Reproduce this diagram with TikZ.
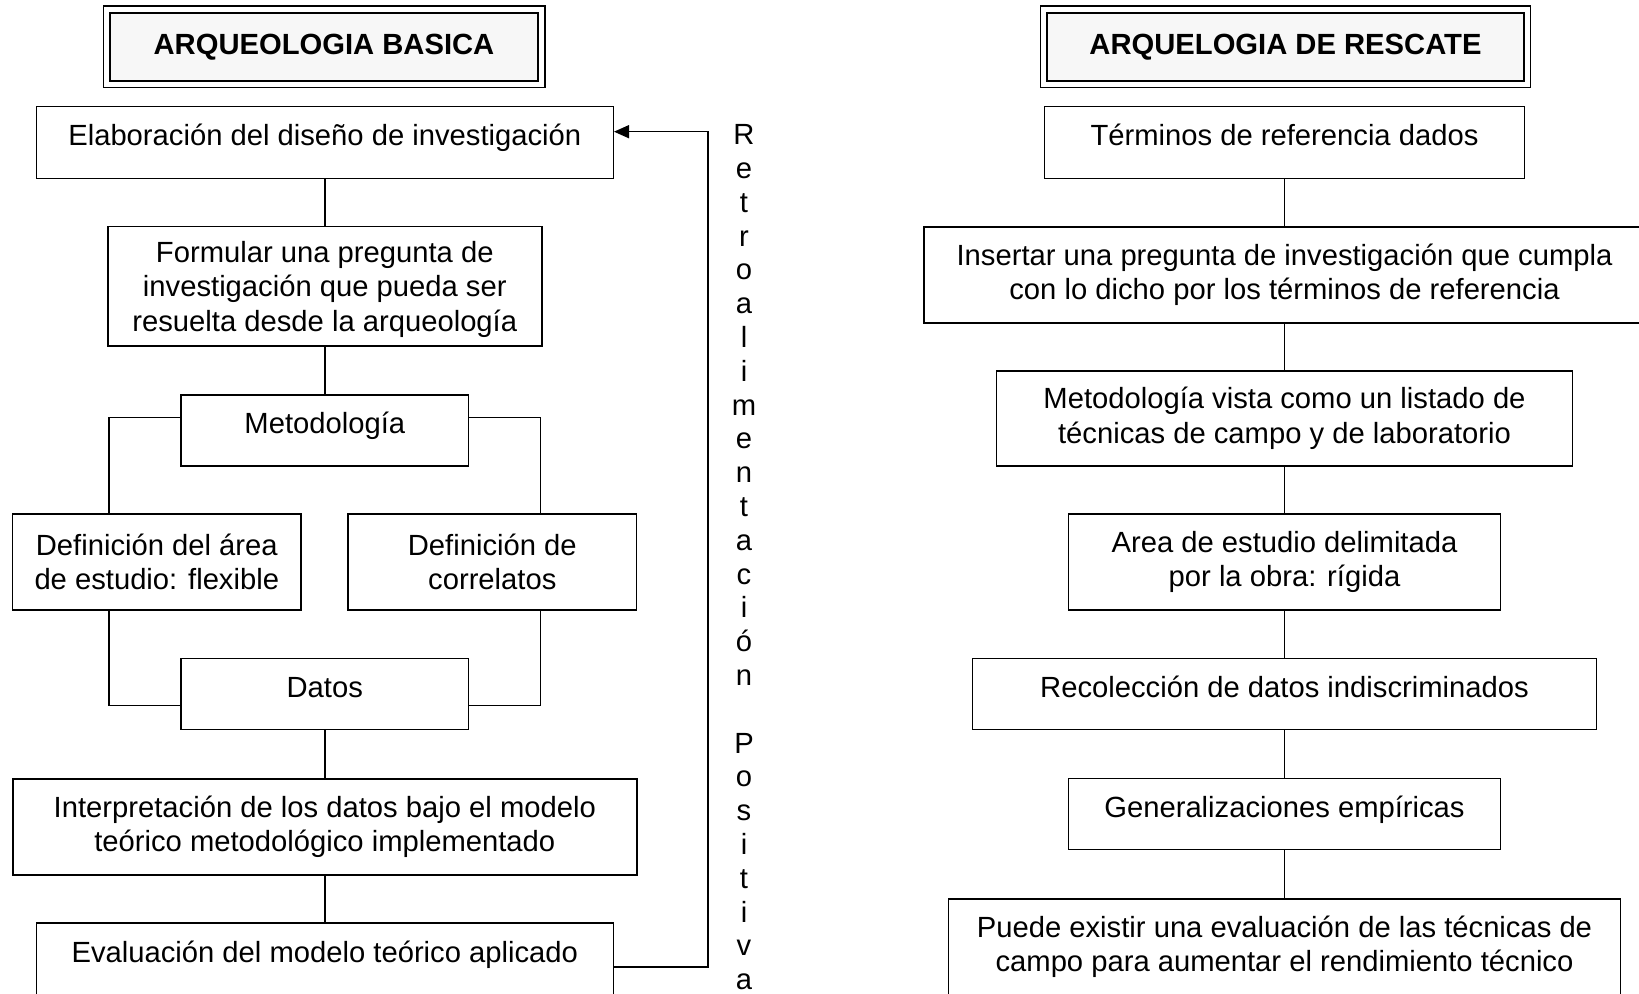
\documentclass[tikz,border=0pt]{standalone}
\usepackage{fontspec}
\setmainfont{Liberation Sans}
\usetikzlibrary{arrows.meta}
\begin{document}
\begin{tikzpicture}[x=0.5pt,y=-0.5pt,
  box/.style={draw=black, line width=0.7pt, fill=white, align=center, inner sep=0pt,
    font=\fontsize{14.6pt}{17.25pt}\selectfont},
  oneline/.style={text height=9pt, text depth=6pt},
  titlebox/.style={draw=black, line width=1.2pt, fill=black!3, align=center, inner sep=0pt,
    font=\fontsize{14.6pt}{17.25pt}\selectfont\bfseries},
  titleouter/.style={draw=black, line width=0.6pt},
  conn/.style={draw=black, line width=0.7pt},
  vtext/.style={align=center, inner sep=0pt, font=\fontsize{14.6pt}{16.9pt}\selectfont}
]
\useasboundingbox (0,0) rectangle (1639,994);

% titles
\node[titlebox, minimum width=214pt, minimum height=34pt] (t1) at (324,47) {ARQUEOLOGIA BASICA};
\draw[titleouter] ([xshift=-2.75pt,yshift=2.9pt]t1.north west) rectangle ([xshift=2.9pt,yshift=-2.6pt]t1.south east);
\node[titlebox, minimum width=238.5pt, minimum height=34pt] (t2) at (1285.5,47) {ARQUELOGIA DE RESCATE};
\draw[titleouter] ([xshift=-2.75pt,yshift=2.9pt]t2.north west) rectangle ([xshift=2.6pt,yshift=-2.6pt]t2.south east);

% left column
\node[box, oneline, minimum width=288.5pt, minimum height=36pt] (elab) at (324.8,142.7) {Elaboración del diseño de investigación};
\node[box, text depth=0pt, minimum width=217pt, minimum height=59.6pt] (form) at (324.8,286.4) {Formular una pregunta de\\investigación que pueda ser\\resuelta desde la arqueología};
\node[box, oneline, minimum width=143.75pt, minimum height=35.5pt] (metod) at (324.8,430.5) {Metodología};
\node[box, minimum width=144.25pt, minimum height=48pt] (defarea) at (156.8,562) {Definición del área\\de estudio: flexible};
\node[box, minimum width=144.3pt, minimum height=48pt] (defcorr) at (492.3,562) {Definición de\\correlatos};
\node[box, oneline, minimum width=143.75pt, minimum height=35.5pt] (datos) at (324.8,694) {Datos};
\node[box, minimum width=312pt, minimum height=48pt] (interp) at (324.8,827) {Interpretación de los datos bajo el modelo\\teórico metodológico implementado};
\node[box, oneline, minimum width=288.5pt, minimum height=36pt] (evalu) at (324.8,959) {Evaluación del modelo teórico aplicado};

\draw[conn] (elab.south) -- (form.north);
\draw[conn] (form.south) -- (metod.north);
\draw[conn] ([yshift=6.6pt]metod.west) -| ([xshift=-23.9pt]defarea.north);
\draw[conn] ([yshift=6.6pt]metod.east) -| ([xshift=24pt]defcorr.north);
\draw[conn] ([xshift=-23.9pt]defarea.south) |- ([yshift=-5.85pt]datos.west);
\draw[conn] ([xshift=24pt]defcorr.south) |- ([yshift=-5.85pt]datos.east);
\draw[conn] (datos.south) -- (interp.north);
\draw[conn] (interp.south) -- (evalu.north);

% feedback arrow
\coordinate (fbx) at (708,967);
\coordinate (evout) at ([yshift=-4pt]evalu.east);
\coordinate (elabin) at ([yshift=5.5pt]elab.east);
\draw[conn, -{Triangle[length=7.5pt,width=6.5pt]}] (evout) -- (fbx |- evout) |- (elabin);

\node[vtext] (retro) at (744,557.3) {R\\e\\t\\r\\o\\a\\l\\i\\m\\e\\n\\t\\a\\c\\i\\ó\\n\\[16.9pt]P\\o\\s\\i\\t\\i\\v\\a};

% right column
\node[box, oneline, minimum width=240pt, minimum height=36pt] (term) at (1284.5,142.7) {Términos de referencia dados};
\node[box, minimum width=360.5pt, minimum height=48pt] (insert) at (1284.5,275) {Insertar una pregunta de investigación que cumpla\\con lo dicho por los términos de referencia};
\node[box, minimum width=288pt, minimum height=47.5pt] (metvista) at (1284.5,418.5) {Metodología vista como un listado de\\técnicas de campo y de laboratorio};
\node[box, minimum width=216pt, minimum height=48pt] (area) at (1284.5,562) {Area de estudio delimitada\\por la obra: rígida};
\node[box, oneline, minimum width=312pt, minimum height=35.5pt] (recol) at (1284.5,694) {Recolección de datos indiscriminados};
\node[box, oneline, minimum width=216pt, minimum height=35.5pt] (gener) at (1284.5,814) {Generalizaciones empíricas};
\node[box, minimum width=336pt, minimum height=48pt] (puede) at (1284.5,947) {Puede existir una evaluación de las técnicas de\\campo para aumentar el rendimiento técnico};

\draw[conn] (term.south) -- (insert.north);
\draw[conn] (insert.south) -- (metvista.north);
\draw[conn] (metvista.south) -- (area.north);
\draw[conn] (area.south) -- (recol.north);
\draw[conn] (recol.south) -- (gener.north);
\draw[conn] (gener.south) -- (puede.north);
\end{tikzpicture}
\end{document}
